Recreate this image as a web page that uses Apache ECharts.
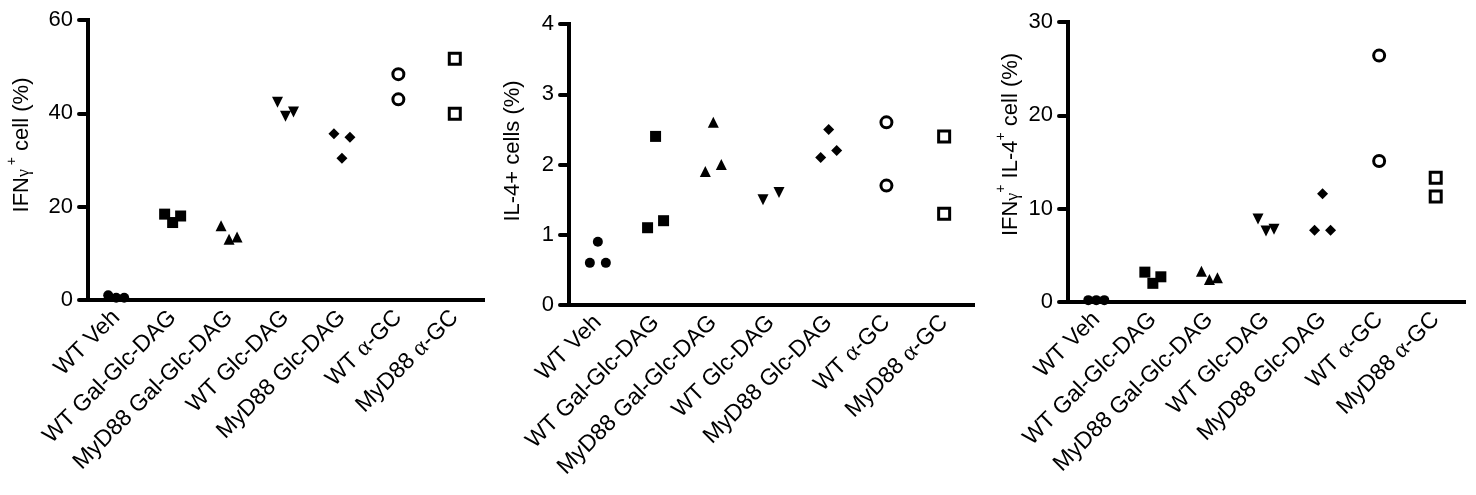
<!DOCTYPE html>
<html><head><meta charset="utf-8">
<script src="https://cdn.jsdelivr.net/npm/echarts@6/dist/echarts.min.js"></script>
<style>html,body{margin:0;padding:0;background:#fff}#c{width:1476px;height:495px}</style>
</head><body><div id="c"></div>
<script>
// ---- data ----
const categories = ['WT Veh','WT Gal-Glc-DAG','MyD88 Gal-Glc-DAG','WT Glc-DAG','MyD88 Glc-DAG','WT α-GC','MyD88 α-GC'];
const ifngValues   = [[1.0,0.5,0.5],[18.4,16.6,18.0],[15.9,13.0,13.5],[42.4,39.4,40.3],[35.6,30.4,34.9],[48.4,43.0],[51.7,39.9]];
const il4Values    = [[0.6,0.9,0.6],[1.1,2.4,1.2],[1.9,2.6,2.0],[1.5,1.6],[2.1,2.5,2.2],[2.6,1.7],[2.4,1.3]];
const doubleValues = [[0.2,0.2,0.2],[3.2,2.0,2.7],[3.3,2.4,2.6],[8.9,7.6,7.8],[7.7,11.6,7.7],[26.4,15.1],[13.3,11.3]];
const ifngTicks   = [0,20,40,60];
const il4Ticks    = [0,1,2,3,4];
const doubleTicks = [0,10,20,30];

// ---- styling ----
const FONT = 'Liberation Sans';
const panels = [
  {values: ifngValues, ticks: ifngTicks, grid:{left:88, top:20, width:395, height:280},
   name:'{t|IFN}{g|γ}{s| +}{t| cell (%)}', nameGap:55, namePad:30},
  {values: il4Values, ticks: il4Ticks, grid:{left:569, top:24, width:404, height:281},
   name:'{t|IL-4+ cells (%)}', nameGap:45, namePad:27},
  {values: doubleValues, ticks: doubleTicks, grid:{left:1068, top:22, width:396, height:280},
   name:'{t|IFN}{g|γ}{s|+}{t| IL-4}{s|+}{t| cell (%)}', nameGap:46, namePad:35}
];
const markerStyles = [
  {symbol:'circle', size:10, fill:'#000'},
  {symbol:'rect', size:11, fill:'#000'},
  {symbol:'triangle', size:[11,11], fill:'#000'},
  {symbol:'triangle', size:[11,11], fill:'#000', rotate:180},
  {symbol:'diamond', size:[11,11], fill:'#000'},
  {symbol:'circle', size:11, fill:'#fff', border:3},
  {symbol:'rect', size:11, fill:'#fff', border:3}
];
const SPREAD = 8;

function labelFmt(v){
  if (v.indexOf('α') >= 0) {
    const parts = v.split('α');
    return '{n|' + parts[0] + '}{a|α}{n|' + parts[1] + '}';
  }
  return '{n|' + v + '}';
}

const grids = [], xAxes = [], yAxes = [], series = [];
panels.forEach((p, pi) => {
  grids.push(Object.assign({outerBoundsMode:'none', containLabel:false}, p.grid));
  xAxes.push({
    type:'category', gridIndex:pi, data:categories, boundaryGap:true,
    axisLine:{lineStyle:{color:'#000', width:4, cap:'square'}},
    axisTick:{alignWithLabel:true, length:12, lineStyle:{color:'#000', width:4, cap:'round'}},
    axisLabel:{interval:0, rotate:45, margin:14, color:'#000', formatter:labelFmt,
      rich:{n:{fontFamily:FONT, fontSize:23, color:'#000'}, a:{fontFamily:'Liberation Serif', fontSize:24, color:'#000'}}},
    splitLine:{show:false}
  });
  const tmin = p.ticks[0], tmax = p.ticks[p.ticks.length-1], step = p.ticks[1]-p.ticks[0];
  yAxes.push({
    type:'value', gridIndex:pi, min:tmin, max:tmax, interval:step,
    name:p.name, nameLocation:'middle', nameGap:p.nameGap, nameRotate:90,
    nameTextStyle:{color:'#000', padding:[0,0,0,p.namePad], rich:{
      t:{fontFamily:FONT, fontSize:22, color:'#000', lineHeight:28, verticalAlign:'bottom'},
      g:{fontFamily:'Liberation Serif', fontSize:18, color:'#000', lineHeight:28, verticalAlign:'bottom'},
      s:{fontFamily:FONT, fontSize:14, color:'#000', lineHeight:28, verticalAlign:'top'}
    }},
    axisLine:{show:true, lineStyle:{color:'#000', width:4, cap:'square'}},
    axisTick:{show:true, length:9, lineStyle:{color:'#000', width:4, cap:'round'}},
    axisLabel:{fontFamily:FONT, fontSize:22, color:'#000', margin:15},
    splitLine:{show:false}
  });
  const pxPerUnit = p.grid.height / (tmax - tmin);
  p.values.forEach((grp, ci) => {
    const n = grp.length;
    let close = false;
    for (let i=0;i<n;i++) for (let j=i+1;j<n;j++) if (Math.abs(grp[i]-grp[j])*pxPerUnit < 14) close = true;
    let offs;
    if (!close) offs = grp.map(() => 0);
    else if (n === 3) offs = [-SPREAD, 0, SPREAD];
    else offs = grp.map((_, i) => (n === 1 ? 0 : (i === 0 ? -SPREAD : SPREAD)));
    const ms = markerStyles[ci];
    series.push({
      type:'scatter', xAxisIndex:pi, yAxisIndex:pi,
      symbol:ms.symbol, symbolSize:ms.size, symbolRotate:ms.rotate || 0,
      itemStyle:{color:ms.fill, borderColor:'#000', borderWidth:ms.border || 0, opacity:1},
      emphasis:{disabled:true},
      data: grp.map((v, i) => ({value:[ci, v], symbolOffset:[offs[i], 0]})),
      z:5
    });
  });
});

const chart = echarts.init(document.getElementById('c'), null, {renderer:'canvas'});
chart.setOption({
  backgroundColor:'#fff', animation:false,
  grid:grids, xAxis:xAxes, yAxis:yAxes, series:series
});
</script></body></html>
